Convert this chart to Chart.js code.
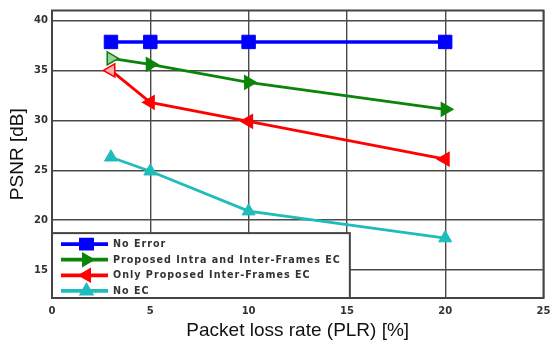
<!DOCTYPE html>
<html>
<head>
<meta charset="utf-8">
<script src="https://cdn.jsdelivr.net/npm/chart.js@4.4.1/dist/chart.umd.min.js"></script>
<style>
  html, body { margin: 0; padding: 0; background: #fff; }
  #wrap { width: 554px; height: 347px; position: relative; }
</style>
</head>
<body>
<div id="wrap"><canvas id="c" width="554" height="347"></canvas></div>
<script>
// Packet loss rates (%) at which PSNR was measured
const plr = [3, 5, 10, 20];

// PSNR (dB) per scheme
const noError      = [37.85, 37.85, 37.85, 37.85];
const intraInterEC = [36.2, 35.6, 33.8, 31.1];
const interOnlyEC  = [35.0, 31.8, 29.9, 26.1];
const noEC         = [26.3, 24.9, 20.9, 18.2];

const seriesLabels = [
  'No Error',
  'Proposed Intra and Inter-Frames EC',
  'Only Proposed Inter-Frames EC',
  'No EC'
];

const xTicks = [0, 5, 10, 15, 20, 25];
const yTicks = [15, 20, 25, 30, 35, 40];

const BLUE = '#0000ff', GREEN = '#0a850a', RED = '#ff0000', CYAN = '#1fbcbc';
const FRAME = '#444';

function pts(ys) { return plr.map((x, i) => ({ x: x, y: ys[i] })); }

// Marker shapes for the legend samples
function drawMarker(ctx, style, rot, x, y, r, fill, stroke) {
  ctx.save();
  ctx.fillStyle = fill;
  ctx.strokeStyle = stroke;
  ctx.lineWidth = 1.5;
  ctx.beginPath();
  if (style === 'rect') {
    const s = Math.SQRT1_2 * r;
    ctx.rect(x - s, y - s * 0.85, 2 * s, 2 * s * 0.85);
  } else {
    let a = rot * Math.PI / 180;
    for (let k = 0; k < 3; k++) {
      const px = x + Math.sin(a) * r, py = y - Math.cos(a) * r;
      if (k === 0) ctx.moveTo(px, py); else ctx.lineTo(px, py);
      a += 2 * Math.PI / 3;
    }
    ctx.closePath();
  }
  ctx.fill();
  ctx.stroke();
  ctx.restore();
}

// Box legend in the lower-left corner of the plot, plus the frame around the plot
const boxLegend = {
  id: 'boxLegend',
  afterDatasetsDraw(chart) {
    const { ctx, chartArea: a, scales } = chart;
    ctx.save();
    ctx.strokeStyle = FRAME;
    ctx.lineWidth = 2;
    ctx.strokeRect(a.left, a.top, a.right - a.left, a.bottom - a.top);

    // legend box spans from x=0 to x=15 and from the axis up to y≈18.7
    const lx0 = scales.x.getPixelForValue(0);
    const lx1 = scales.x.getPixelForValue(15.15);
    const ly0 = scales.y.getPixelForValue(18.7);
    const ly1 = a.bottom;
    ctx.fillStyle = '#ffffff';
    ctx.fillRect(lx0, ly0, lx1 - lx0, ly1 - ly0);
    ctx.strokeStyle = FRAME;
    ctx.lineWidth = 2;
    ctx.strokeRect(lx0, ly0, lx1 - lx0, ly1 - ly0);

    ctx.font = 'bold 9.6px "DejaVu Sans"';
    ctx.letterSpacing = '1px';
    ctx.textBaseline = 'middle';
    ctx.textAlign = 'left';
    chart.data.datasets.forEach((ds, i) => {
      const cy = ly0 + 11 + i * 15.6;
      const sx0 = lx0 + 9, sx1 = lx0 + 56;
      ctx.strokeStyle = ds.borderColor;
      ctx.lineWidth = 3.8;
      ctx.beginPath();
      ctx.moveTo(sx0, cy);
      ctx.lineTo(sx1, cy);
      ctx.stroke();
      drawMarker(ctx, ds.pointStyle, ds.pointRotation || 0, (sx0 + sx1) / 2 + 2, cy,
                 ds.pointStyle === 'rect' ? 9.5 : 7.5, ds.borderColor, ds.borderColor);
      ctx.fillStyle = '#333';
      ctx.fillText(ds.label, sx1 + 5, cy + 0.5);
    });
    ctx.restore();
  }
};

// keep the plot box at fixed edges regardless of edge tick labels
function noEdgePadding(s) {
  s.paddingLeft = 0; s.paddingRight = 0; s.paddingTop = 0; s.paddingBottom = 0;
}

const tickFont = { family: '"DejaVu Sans"', size: 10, weight: 'bold' };
const titleFont = { family: '"Liberation Sans", Arial', size: 19 };

new Chart(document.getElementById('c'), {
  type: 'line',
  data: {
    datasets: [
      {
        label: seriesLabels[0], data: pts(noError),
        borderColor: BLUE, backgroundColor: BLUE, borderWidth: 3.5,
        pointStyle: 'rect', pointRadius: 9.5, pointBorderWidth: 1,
        pointBackgroundColor: BLUE, pointBorderColor: BLUE
      },
      {
        label: seriesLabels[1], data: pts(intraInterEC),
        borderColor: GREEN, backgroundColor: GREEN, borderWidth: 2.8,
        pointStyle: 'triangle', pointRotation: 90, pointRadius: 7.5, pointBorderWidth: 1.6,
        pointBackgroundColor: ['#9fd09f', GREEN, GREEN, GREEN], pointBorderColor: GREEN
      },
      {
        label: seriesLabels[2], data: pts(interOnlyEC),
        borderColor: RED, backgroundColor: RED, borderWidth: 2.8,
        pointStyle: 'triangle', pointRotation: -90, pointRadius: 7.5, pointBorderWidth: 1.6,
        pointBackgroundColor: ['#ffb0b0', RED, RED, RED], pointBorderColor: RED
      },
      {
        label: seriesLabels[3], data: pts(noEC),
        borderColor: CYAN, backgroundColor: CYAN, borderWidth: 2.8,
        pointStyle: 'triangle', pointRotation: 0, pointRadius: 7.5, pointBorderWidth: 1,
        pointBackgroundColor: CYAN, pointBorderColor: CYAN
      }
    ]
  },
  options: {
    responsive: false,
    animation: false,
    events: [],
    layout: { padding: { top: 8, right: 7, left: 0, bottom: 0 } },
    plugins: { legend: { display: false }, tooltip: { enabled: false } },
    scales: {
      x: {
        type: 'linear', min: 0, max: 25,
        afterBuildTicks(s) { s.ticks = xTicks.map(v => ({ value: v })); },
        afterFit(s) { s.height = 49; noEdgePadding(s); },
        grid: { color: '#4a4a4a', lineWidth: 1.4, drawTicks: false },
        border: { display: false },
        ticks: { padding: 7, color: '#333', font: tickFont, maxRotation: 0 },
        title: {
          display: true, text: 'Packet loss rate (PLR) [%]', color: '#111',
          font: titleFont, padding: { top: 0, bottom: 5 }
        }
      },
      y: {
        type: 'linear', min: 12.2, max: 41,
        afterBuildTicks(s) { s.ticks = yTicks.map(v => ({ value: v })); },
        afterFit(s) { s.width = 52; noEdgePadding(s); },
        grid: { color: '#4a4a4a', lineWidth: 1.4, drawTicks: false },
        border: { display: false },
        ticks: { padding: 4, color: '#333', font: tickFont },
        title: {
          display: true, text: 'PSNR [dB]', color: '#111',
          font: titleFont, padding: { top: 6, bottom: 0 }
        }
      }
    }
  },
  plugins: [boxLegend]
});
</script>
</body>
</html>
